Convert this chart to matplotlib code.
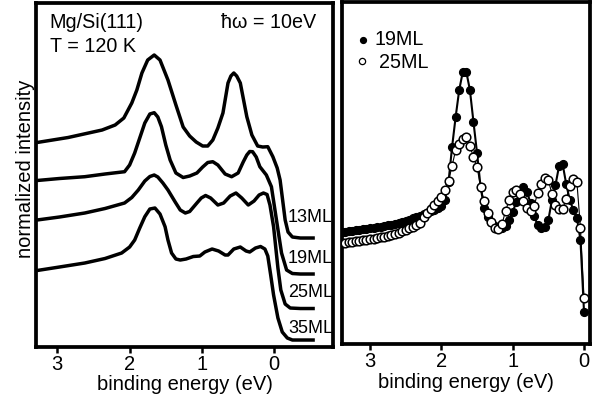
import numpy as np
import matplotlib
matplotlib.use("Agg")
import matplotlib.pyplot as plt

plt.rcParams['font.family'] = ['Liberation Sans', 'DejaVu Sans']

# ---------------- left panel: spectra vs. coverage (binding energy eV, intensity a.u.)
e_13 = [3.28, 2.85, 2.38, 2.20, 2.08, 1.97, 1.90, 1.83, 1.75, 1.66, 1.58, 1.47, 1.36, 1.26,
        1.17, 1.08, 0.99, 0.92, 0.85, 0.78, 0.71, 0.64, 0.60, 0.56, 0.52, 0.47, 0.38, 0.31,
        0.23, 0.16, 0.09, 0.02, -0.04, -0.08, -0.15, -0.19, -0.25, -0.36, -0.56]
i_13 = [204, 209, 216.5, 221.5, 228.5, 243.5, 256.5, 273.5, 286.5, 291.5, 286.5, 266.5, 241.5, 219.5,
        210.5, 204.5, 200.5, 200.5, 206.5, 218.5, 233.5, 263.5, 270.5, 273.5, 270.5, 263.5, 229.8, 211.5,
        200.5, 199.5, 199.8, 189.8, 178.5, 166.5, 126.5, 114.5, 109.5, 108.5, 108.5]

e_19 = [3.28, 2.97, 2.62, 2.34, 2.07, 2.00, 1.93, 1.86, 1.79, 1.72, 1.66, 1.61, 1.56, 1.50,
        1.44, 1.36, 1.26, 1.17, 1.07, 0.99, 0.92, 0.85, 0.78, 0.68, 0.59, 0.50, 0.43, 0.38,
        0.34, 0.30, 0.25, 0.20, 0.11, 0.04, -0.03, -0.10, -0.17, -0.25, -0.36, -0.56]
i_19 = [166, 168, 169.8, 172.5, 174.8, 181.5, 193.5, 208.5, 223.5, 232.5, 233.8, 229.5, 219.8, 201.5,
        186.5, 173.5, 169, 170.5, 173.5, 179.5, 184, 184.8, 181.5, 172.5, 169.8, 173.5, 184.5, 191.5,
        195, 194.8, 189.5, 179.8, 171.5, 159.8, 126.5, 93.5, 76.5, 73, 72.5, 72.5]

e_25 = [3.28, 2.97, 2.62, 2.34, 2.07, 1.97, 1.88, 1.79, 1.72, 1.66, 1.61, 1.54, 1.47, 1.37,
        1.30, 1.23, 1.17, 1.07, 1.01, 0.95, 0.88, 0.78, 0.70, 0.61, 0.53, 0.45, 0.36, 0.28,
        0.21, 0.15, 0.10, 0.06, 0.01, -0.05, -0.09, -0.15, -0.22, -0.36, -0.56]
i_25 = [126.5, 129.5, 133.5, 138, 143.5, 149, 156.5, 165.5, 170, 171.5, 169.5, 163.5, 156.5, 144.5,
        136.5, 133.5, 135, 143.5, 148.5, 151, 148.5, 141.5, 143.5, 150.5, 153.5, 148.5, 141.5, 145.5,
        151.5, 153.5, 152, 141.5, 119.8, 78.5, 56.5, 42.5, 38.5, 38, 38]

e_35 = [3.28, 2.97, 2.62, 2.34, 2.11, 2.00, 1.93, 1.86, 1.79, 1.72, 1.65, 1.58, 1.51, 1.47,
        1.42, 1.36, 1.30, 1.22, 1.12, 1.03, 0.96, 0.86, 0.77, 0.68, 0.64, 0.56, 0.47, 0.39,
        0.34, 0.26, 0.19, 0.13, 0.09, 0.05, 0.01, -0.05, -0.11, -0.18, -0.25, -0.36, -0.56]
i_35 = [76, 79.5, 83.5, 88, 93.5, 99.5, 106.5, 118.5, 129.8, 137.5, 138.5, 132.5, 119.8, 106.5,
        93.5, 87.5, 86.5, 87.5, 90, 90.5, 94.5, 97.5, 95.5, 91.5, 91.5, 97.5, 99.5, 95.5,
        94.5, 98.5, 100, 97.5, 90.5, 71.5, 51.5, 28.5, 14.5, 8.5, 6.5, 6.5, 6.5]

left_labels = ['13ML', '19ML', '25ML', '35ML']
left_label_y = [129.5, 88.5, 54.0, 18.0]

# ---------------- right panel: 19ML vs 25ML points
e_pts = [3.40, 3.35, 3.30, 3.25, 3.20, 3.15, 3.10, 3.05, 3.00, 2.95, 2.90, 2.85, 2.80, 2.75,
         2.70, 2.65, 2.60, 2.55, 2.50, 2.45, 2.40, 2.35, 2.30, 2.25, 2.20, 2.15, 2.10, 2.05,
         2.00, 1.95, 1.90, 1.85, 1.80, 1.75, 1.70, 1.65, 1.60, 1.55, 1.50, 1.45, 1.40, 1.35,
         1.30, 1.25, 1.20, 1.15, 1.10, 1.05, 1.00, 0.95, 0.90, 0.85, 0.80, 0.75, 0.70, 0.65,
         0.60, 0.55, 0.50, 0.45, 0.40, 0.35, 0.30, 0.25, 0.20, 0.15, 0.10, 0.05, 0.00]
i_19pts = [112, 112.5, 113, 113.5, 114, 114.5, 115, 115.5, 116, 116.5, 117, 117.5, 118, 119,
           119.5, 120.5, 121.5, 122.5, 123.5, 124.5, 126, 127, 128.5, 130, 131.5, 133, 134.5, 136,
           138, 144, 162, 197, 227, 254, 272, 272, 254, 222, 191, 157, 136, 127,
           122, 118, 116, 116, 118, 124, 132, 142, 151, 157, 152, 141, 128, 119,
           116, 117, 124, 144, 159, 178, 180, 160, 144, 134, 126, 104, 32]
i_25pts = [101, 101.5, 102, 102.5, 103, 103.5, 104, 104.5, 105, 105.5, 106, 107, 107.5, 108.5,
           109.5, 110.5, 111.5, 113, 114.5, 116, 117.5, 119, 121, 127, 131, 135, 139.5, 143,
           147, 154, 163, 178, 194, 200, 205, 207, 198, 187, 177, 157, 143, 131,
           122, 116, 115, 120, 133, 144, 152, 154, 150, 143, 136, 133, 138, 151,
           160, 166, 164, 150, 139, 135, 135, 145, 158, 165, 162, 116, 46]
legend_labels = ['19ML', '25ML']

FS = 14.5

fig = plt.figure(figsize=(5.97, 4.07), dpi=100)
axL = fig.add_axes([0.0603, 0.1486, 0.4983, 0.8433])
axR = fig.add_axes([0.5729, 0.1548, 0.4154, 0.8410])

for e, i in [(e_13, i_13), (e_19, i_19), (e_25, i_25), (e_35, i_35)]:
    axL.plot(e, i, color='black', lw=2.5, solid_joinstyle='round', solid_capstyle='butt')
for lab, y in zip(left_labels, left_label_y):
    axL.text(-0.19, y, lab, fontsize=13, ha='left', va='center')
axL.set_xlim(3.294, -0.818)
axL.set_ylim(0, 343.2)
axL.text(0.046, 0.945, 'Mg/Si(111)', transform=axL.transAxes, fontsize=14.2, va='center')
axL.text(0.046, 0.873, 'T = 120 K', transform=axL.transAxes, fontsize=14.2, va='center')
axL.text(0.622, 0.945, 'ħω = 10eV', transform=axL.transAxes, fontsize=14.2, va='center')

axR.plot(e_pts, i_19pts, color='black', lw=1.5, marker='o', ms=5.6,
         mfc='black', mec='black', zorder=2)
axR.plot(e_pts, i_25pts, color='black', lw=0.8, marker='o', ms=6.2,
         mfc='white', mec='black', mew=1.1, zorder=3)
axR.set_xlim(3.393, -0.084)
axR.set_ylim(0, 342.3)
axR.plot([0.085], [0.887], 'o', ms=4.2, mfc='black', mec='black', transform=axR.transAxes)
axR.plot([0.082], [0.826], 'o', ms=4.5, mfc='white', mec='black', mew=0.9, transform=axR.transAxes)
axR.text(0.13, 0.889, legend_labels[0], transform=axR.transAxes, fontsize=14.2, va='center')
axR.text(0.15, 0.822, legend_labels[1], transform=axR.transAxes, fontsize=14.2, va='center')

for ax in (axL, axR):
    for s in ax.spines.values():
        s.set_linewidth(2.7)
    ax.set_xticks([3, 2, 1, 0])
    ax.set_xticklabels(['3', '2', '1', '0'])
    ax.set_yticks([])
    ax.tick_params(axis='x', direction='out', length=4, width=1.8, labelsize=FS, pad=2)
    ax.set_xlabel('binding energy (eV)', fontsize=FS, labelpad=1)

fig.text(0.042, 0.585, 'normalized intensity', rotation=90, fontsize=FS,
         ha='center', va='center')

fig.savefig('out.png', dpi=100)
